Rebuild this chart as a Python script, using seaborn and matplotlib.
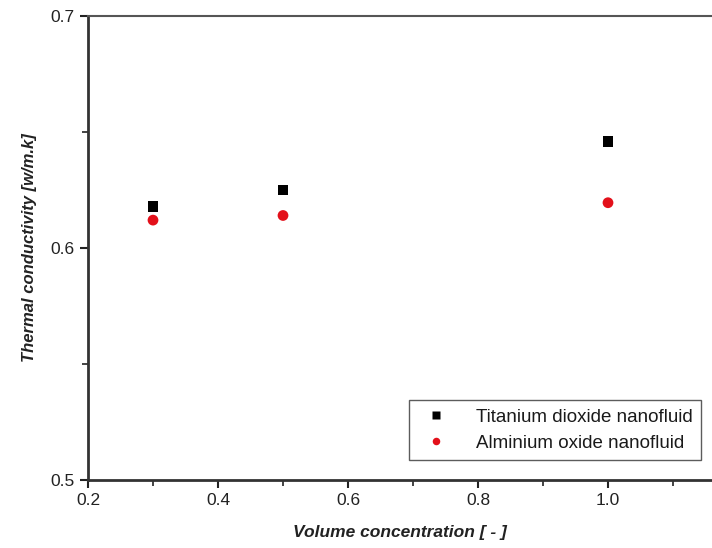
import matplotlib
matplotlib.use("Agg")
import matplotlib.pyplot as plt
import seaborn as sns
import pandas as pd
from matplotlib.ticker import MultipleLocator

concentration = [0.3, 0.5, 1.0]
titanium = [0.618, 0.625, 0.646]
aluminium = [0.612, 0.614, 0.6195]
series_names = ["Titanium dioxide nanofluid", "Alminium oxide nanofluid"]

df = pd.DataFrame({
    "x": concentration * 2,
    "y": titanium + aluminium,
    "series": [series_names[0]] * 3 + [series_names[1]] * 3,
})

sns.set_theme(style="white")
plt.rcParams['font.family'] = ['Liberation Sans', 'DejaVu Sans']

fig = plt.figure(figsize=(7.12, 5.48), dpi=100)
ax = fig.add_axes([0.1236, 0.124, 0.8764, 0.847])

sns.scatterplot(data=df, x="x", y="y", hue="series", style="series",
                palette={series_names[0]: "black", series_names[1]: "#e3101a"},
                markers={series_names[0]: "s", series_names[1]: "o"},
                s=60, edgecolor="none", ax=ax)

ax.set_xlim(0.2, 1.16)
ax.set_ylim(0.5, 0.7)
ax.xaxis.set_major_locator(MultipleLocator(0.2))
ax.xaxis.set_minor_locator(MultipleLocator(0.1))
ax.yaxis.set_major_locator(MultipleLocator(0.1))
ax.yaxis.set_minor_locator(MultipleLocator(0.05))
ax.xaxis.set_major_formatter(plt.FuncFormatter(lambda v, p: f"{v:.1f}"))
ax.yaxis.set_major_formatter(plt.FuncFormatter(lambda v, p: f"{v:.1f}"))

ax.tick_params(axis="both", which="major", direction="out", length=6, width=1.5,
               labelsize=12.5, colors="#222222", bottom=True, left=True)
ax.tick_params(axis="both", which="minor", direction="out", length=4, width=1.2,
               bottom=True, left=True, colors="#222222")

for side in ["left", "bottom"]:
    ax.spines[side].set_linewidth(2)
    ax.spines[side].set_color("#333333")
ax.spines["top"].set_linewidth(1.5)
ax.spines["top"].set_color("#555555")
ax.spines["right"].set_visible(False)

ax.set_xlabel("Volume concentration [ - ]", fontsize=12.5, fontstyle="italic",
              fontweight="bold", color="#222222", labelpad=12)
ax.set_ylabel("Thermal conductivity [w/m.k]", fontsize=12, fontstyle="italic",
              fontweight="bold", color="#222222", labelpad=10)

leg = ax.legend(loc="lower right", fontsize=13.5, frameon=True, fancybox=False,
                edgecolor="#333333", markerscale=0.7, borderpad=0.45,
                bbox_to_anchor=(0.997, 0.022), handletextpad=1.1,
                labelspacing=0.5)
leg.get_frame().set_linewidth(1.0)
for t in leg.get_texts():
    t.set_color("#1a1a1a")

fig.savefig("out.png", dpi=100)
